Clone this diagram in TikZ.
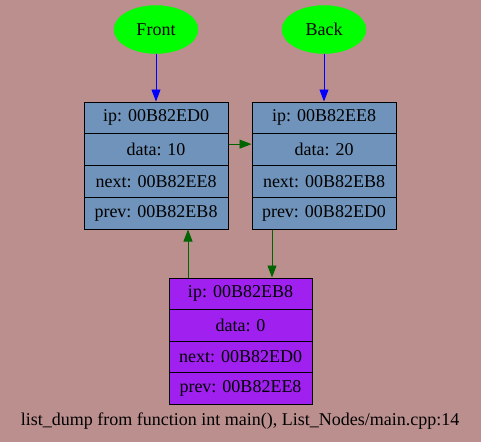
\documentclass[tikz,border=0pt]{standalone}
\usepackage{fontspec}
\setmainfont{Liberation Serif}
\usetikzlibrary{arrows.meta,shapes.geometric}
\definecolor{bgc}{HTML}{BC8F8F}
\definecolor{boxblue}{HTML}{6F93BA}
\definecolor{boxpurple}{HTML}{A020F0}
\definecolor{pgreen}{HTML}{00FF00}
\definecolor{dgreen}{HTML}{006400}
\tikzset{
  txt/.style={font=\fontsize{18}{20}\selectfont},
  cellblue/.style={txt, draw=black, line width=1pt, fill=boxblue, minimum width=144pt, minimum height=31.75pt, inner sep=0pt},
  cellpurple/.style={txt, draw=black, line width=1pt, fill=boxpurple, minimum width=143pt, minimum height=31.5pt, inner sep=0pt},
  ptr/.style={txt, ellipse, fill=pgreen, draw=pgreen, minimum width=84pt, minimum height=48pt, inner sep=0pt},
  bluearrow/.style={draw=blue, line width=0.9pt, -{Triangle[length=12pt,width=9pt]}},
  greenarrow/.style={draw=dgreen, line width=0.9pt, -{Triangle[length=12pt,width=9pt]}},
}
\begin{document}
\begin{tikzpicture}[x=1pt,y=-1pt]
\fill[bgc] (0,0) rectangle (481,442);
\useasboundingbox (0,0) rectangle (481,442);
\node[ptr] (front) at (156,29.5) {Front};
\node[ptr] (back) at (324,29.5) {Back};
% box 1
\node[cellblue] (b1ip) at (156,117.875) {ip: 00B82ED0};
\node[cellblue] (b1data) at (156,149.625) {data: 10};
\node[cellblue] (b1next) at (156,181.375) {next: 00B82EE8};
\node[cellblue] (b1prev) at (156,213.125) {prev: 00B82EB8};
% box 2
\node[cellblue] (b2ip) at (324,117.875) {ip: 00B82EE8};
\node[cellblue] (b2data) at (324,149.625) {data: 20};
\node[cellblue] (b2next) at (324,181.375) {next: 00B82EB8};
\node[cellblue] (b2prev) at (324,213.125) {prev: 00B82ED0};
% box 3
\node[cellpurple] (b3ip) at (240.5,293.75) {ip: 00B82EB8};
\node[cellpurple] (b3data) at (240.5,325.25) {data: 0};
\node[cellpurple] (b3next) at (240.5,356.75) {next: 00B82ED0};
\node[cellpurple] (b3prev) at (240.5,388.25) {prev: 00B82EE8};
% arrows
\draw[bluearrow] (front) -- (b1ip.north);
\draw[bluearrow] (back) -- (b2ip.north);
\draw[greenarrow] ([yshift=5.5pt]b1data.east) -- ([yshift=5.5pt]b2data.west);
\draw[greenarrow] ([xshift=-52.5pt]b3ip.north) -- ([xshift=32pt]b1prev.south);
\draw[greenarrow] ([xshift=-52pt]b2prev.south) -- ([xshift=31.5pt]b3ip.north);
\node[txt] (caption) at (240,421) {list\_dump from function int main(), List\_Nodes/main.cpp:14};
\end{tikzpicture}
\end{document}
